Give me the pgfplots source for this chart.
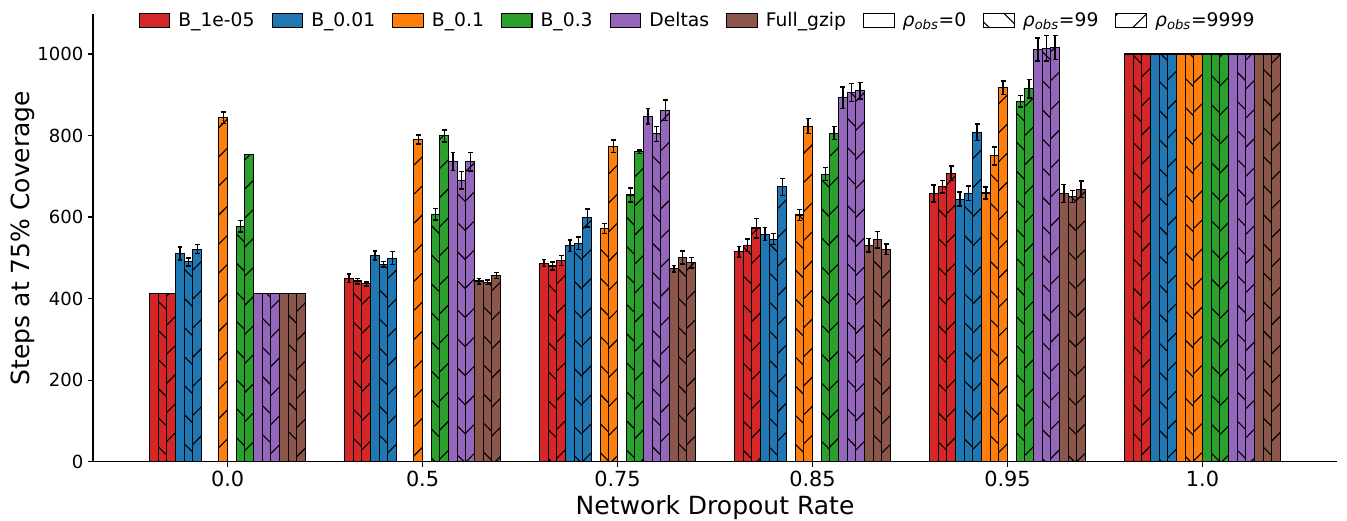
\documentclass[border=0pt]{standalone}
\usepackage{fontspec}
\setmainfont{DejaVu Sans}
\usepackage{pgfplots}
\pgfplotsset{compat=1.18}
\usetikzlibrary{patterns.meta}
\definecolor{cR}{HTML}{D62728}
\definecolor{cB}{HTML}{1F77B4}
\definecolor{cO}{HTML}{FF7F0E}
\definecolor{cG}{HTML}{2CA02C}
\definecolor{cP}{HTML}{9467BD}
\definecolor{cN}{HTML}{8C564B}
\tikzset{
 hA/.style={postaction={pattern={Lines[angle=-45,distance=14.8pt,line width=0.8pt]},pattern color=black}},
 hB/.style={postaction={pattern={Lines[angle=45,distance=14.8pt,line width=0.8pt]},pattern color=black}},
}
\pgfplotsset{
 boxleg/.style={legend image code/.code={\draw[##1,line width=0.8pt] (0pt,-4.95pt) rectangle (22pt,4.95pt);}},
 bb/.style={forget plot, draw=black, line width=0.8pt},
}
\newcommand{\rhoobs}{{\itshape ρ}\raisebox{-0.25ex}{\fontsize{9.5}{11}\selectfont\itshape obs}\hspace{0.5pt}}
\begin{document}
\begin{tikzpicture}
\begin{axis}[
 scale only axis, width=895.7pt, height=322pt,
 xmin=-0.69, xmax=5.69, ymin=0, ymax=1097,
 axis x line*=bottom, axis y line*=left,
 axis line style={line width=0.8pt, black},
 ybar, bar width=0.044444,
 xtick={0,1,2,3,4,5}, xticklabels={0.0,0.5,0.75,0.85,0.95,1.0},
 ytick={0,200,400,600,800,1000},
 tick align=outside, major tick length=3.5pt,
 tick style={line width=0.8pt, black},
 /pgf/number format/assume math mode=true,
 /pgf/number format/1000 sep={},
 yticklabel style={font=\fontsize{13}{15}\selectfont},
 xticklabel style={font=\fontsize{15}{18}\selectfont},
 every axis y label/.style={at={(axis description cs:-0.0514,0.5)}, anchor=base, rotate=90, font=\fontsize{18}{21}\selectfont},
 every axis x label/.style={at={(axis description cs:0.5,0)}, anchor=base, yshift=-38.4pt, font=\fontsize{18}{21}\selectfont},
 ylabel={Steps at 75\% Coverage},
 xlabel={Network Dropout Rate},
 error bars/y dir=both, error bars/y explicit,
 error bars/error bar style={line width=1pt, black, solid},
 error bars/error mark options={rotate=90, mark size=1.7pt, line width=1pt, black},
 legend columns=-1,
 legend style={at={(0.033,0.986)}, anchor=west, draw=none, fill=none,
   font=\fontsize{13.5}{16}\selectfont,
   nodes={inner sep=0pt},
   /tikz/every odd column/.append style={column sep=5.8pt},
   /tikz/every even column/.append style={column sep=12.2pt}},
]
% B_1e-05
\addplot[bb, fill=cR, bar shift=-0.377778] coordinates {(0,413) +- (0,0) (1,450) +- (0,10) (2,487) +- (0,9) (3,515) +- (0,13) (4,658) +- (0,21) (5,1000) +- (0,0)};
\addplot[bb, fill=cR, hA, bar shift=-0.333333] coordinates {(0,413) +- (0,0) (1,443) +- (0,7) (2,480) +- (0,10) (3,531) +- (0,15) (4,674) +- (0,15) (5,1000) +- (0,0)};
\addplot[bb, fill=cR, hB, bar shift=-0.288889] coordinates {(0,413) +- (0,0) (1,436) +- (0,5) (2,493) +- (0,12) (3,573) +- (0,24) (4,707) +- (0,18) (5,1000) +- (0,0)};
% B_0.01
\addplot[bb, fill=cB, bar shift=-0.244444] coordinates {(0,511) +- (0,16) (1,506) +- (0,11) (2,530) +- (0,14) (3,558) +- (0,16) (4,644) +- (0,17) (5,1000) +- (0,0)};
\addplot[bb, fill=cB, hA, bar shift=-0.2] coordinates {(0,490) +- (0,10) (1,484) +- (0,7) (2,536) +- (0,15) (3,546) +- (0,14) (4,658) +- (0,18) (5,1000) +- (0,0)};
\addplot[bb, fill=cB, hB, bar shift=-0.155556] coordinates {(0,521) +- (0,11) (1,499) +- (0,16) (2,598) +- (0,22) (3,674) +- (0,21) (4,808) +- (0,20) (5,1000) +- (0,0)};
% B_0.1
\addplot[bb, fill=cO, bar shift=-0.111111] coordinates {(4,659) +- (0,15) (5,1000) +- (0,0)};
\addplot[bb, fill=cO, hA, bar shift=-0.066667] coordinates {(2,572) +- (0,12) (3,605) +- (0,13) (4,750) +- (0,22) (5,1000) +- (0,0)};
\addplot[bb, fill=cO, hB, bar shift=-0.022222] coordinates {(0,844) +- (0,14) (1,790) +- (0,11) (2,774) +- (0,15) (3,823) +- (0,18) (4,917) +- (0,17) (5,1000) +- (0,0)};
% B_0.3
\addplot[bb, fill=cG, bar shift=0.022222] coordinates {(5,1000) +- (0,0)};
\addplot[bb, fill=cG, hA, bar shift=0.066667] coordinates {(0,577) +- (0,14) (1,607) +- (0,14) (2,654) +- (0,17) (3,705) +- (0,16) (4,884) +- (0,14) (5,1000) +- (0,0)};
\addplot[bb, fill=cG, hB, bar shift=0.111111] coordinates {(0,753) +- (0,0) (1,799) +- (0,15) (2,760) +- (0,4) (3,806) +- (0,16) (4,915) +- (0,23) (5,1000) +- (0,0)};
% Deltas
\addplot[bb, fill=cP, bar shift=0.155556] coordinates {(0,413) +- (0,0) (1,736) +- (0,22) (2,847) +- (0,19) (3,893) +- (0,26) (4,1011) +- (0,28) (5,1000) +- (0,0)};
\addplot[bb, fill=cP, hA, bar shift=0.2] coordinates {(0,413) +- (0,0) (1,690) +- (0,21) (2,804) +- (0,18) (3,905) +- (0,22) (4,1014) +- (0,31) (5,1000) +- (0,0)};
\addplot[bb, fill=cP, hB, bar shift=0.244444] coordinates {(0,413) +- (0,0) (1,736) +- (0,23) (2,862) +- (0,25) (3,910) +- (0,20) (4,1016) +- (0,29) (5,1000) +- (0,0)};
% Full_gzip
\addplot[bb, fill=cN, bar shift=0.288889] coordinates {(0,413) +- (0,0) (1,443) +- (0,7) (2,473) +- (0,8) (3,531) +- (0,17) (4,658) +- (0,22) (5,1000) +- (0,0)};
\addplot[bb, fill=cN, hA, bar shift=0.333333] coordinates {(0,413) +- (0,0) (1,440) +- (0,6) (2,501) +- (0,16) (3,544) +- (0,20) (4,650) +- (0,15) (5,1000) +- (0,0)};
\addplot[bb, fill=cN, hB, bar shift=0.377778] coordinates {(0,413) +- (0,0) (1,457) +- (0,7) (2,488) +- (0,13) (3,521) +- (0,13) (4,668) +- (0,20) (5,1000) +- (0,0)};
% legend
\addlegendimage{boxleg, fill=cR, draw=black}
\addlegendentry{B\_1e-05}
\addlegendimage{boxleg, fill=cB, draw=black}
\addlegendentry{B\_0.01}
\addlegendimage{boxleg, fill=cO, draw=black}
\addlegendentry{B\_0.1}
\addlegendimage{boxleg, fill=cG, draw=black}
\addlegendentry{B\_0.3}
\addlegendimage{boxleg, fill=cP, draw=black}
\addlegendentry{Deltas}
\addlegendimage{boxleg, fill=cN, draw=black}
\addlegendentry{Full\_gzip}
\addlegendimage{boxleg, fill=white, draw=black}
\addlegendentry{\rhoobs=0}
\addlegendimage{boxleg, fill=white, draw=black, hA}
\addlegendentry{\rhoobs=99}
\addlegendimage{boxleg, fill=white, draw=black, hB}
\addlegendentry{\rhoobs=9999}
\coordinate (SW) at (rel axis cs:0,0);
\coordinate (NE) at (rel axis cs:1,1);
\end{axis}
\pgfresetboundingbox
\path ([shift={(-67pt,-42.7pt)}]SW) rectangle ([shift={(7.2pt,10.4pt)}]NE);
\end{tikzpicture}
\end{document}
